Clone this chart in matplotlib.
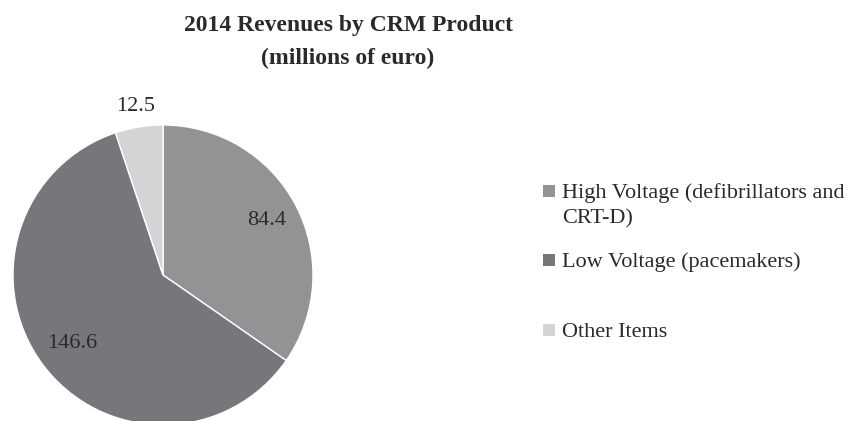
import numpy as np
import matplotlib
matplotlib.use('Agg')
import matplotlib.pyplot as plt
from matplotlib.patches import Rectangle

# data
categories = ['High Voltage (defibrillators and\nCRT-D)', 'Low Voltage (pacemakers)', 'Other Items']
revenues = [84.4, 146.6, 12.5]
value_labels = ['84.4', '146.6', '12.5']
colors = ['#939396', '#77777b', '#d4d4d6']

plt.rcParams['font.family'] = ['Liberation Serif', 'DejaVu Serif']
txt_color = '#2a2a2a'

fig = plt.figure(figsize=(8.48, 4.21), dpi=100)

# pie, centre at (163, 275) px, radius 150 px
ax = fig.add_axes([13 / 848, (421 - 275 - 150) / 421, 300 / 848, 300 / 421])
wedges, _ = ax.pie(revenues, colors=colors, startangle=90, counterclock=False,
                   wedgeprops=dict(edgecolor='white', linewidth=1))
ax.set_xlim(-1, 1)
ax.set_ylim(-1, 1)
ax.set_aspect('auto')
ax.axis('off')

# värdeetiketter (excel "best fit"-liknande)
label_r = [0.78, 0.76, 1.14]
total = sum(revenues)
start = 90.0
for val, lab, r in zip(revenues, value_labels, label_r):
    span = val / total * 360
    mid = np.deg2rad(start - span / 2)
    ax.text(r * np.cos(mid), r * np.sin(mid), lab, ha='center', va='center',
            fontsize=16, color=txt_color, clip_on=False)
    start -= span

# titel
fig.text(348 / 848, 1 - 26 / 421, '2014 Revenues by CRM Product', ha='center', va='center',
         fontsize=17, fontweight='bold', color=txt_color)
fig.text(348 / 848, 1 - 58 / 421, '(millions of euro)', ha='center', va='center',
         fontsize=17, fontweight='bold', color=txt_color)

# legend, ritad för hand (en rad i taget, 25 px radavstånd)
leg_y = [191, 260, 330]
for lab, col, y in zip(categories, colors, leg_y):
    fig.patches.append(Rectangle((543 / 848, 1 - (y + 6) / 421), 12 / 848, 12 / 421,
                                 transform=fig.transFigure, facecolor=col, edgecolor='none'))
    for i, line in enumerate(lab.split('\n')):
        fig.text(562 / 848, 1 - (y + 25 * i) / 421, line, ha='left', va='center_baseline',
                 fontsize=16, color=txt_color)

fig.savefig('out.png', dpi=100)
